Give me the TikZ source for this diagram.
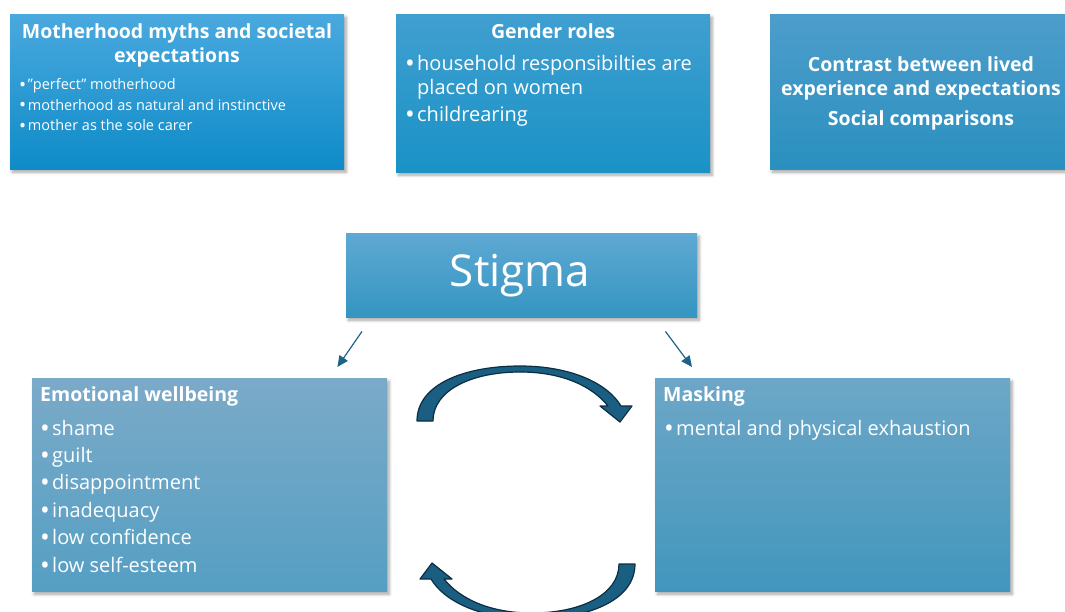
\documentclass[tikz,border=0pt]{standalone}
\usepackage{fontspec}
\setmainfont{Open Sans}
\usetikzlibrary{positioning,shadows.blur,arrows.meta,calc}

\definecolor{mythtop}{HTML}{4AA9DE}
\definecolor{mythbot}{HTML}{0E8BC8}
\definecolor{gendertop}{HTML}{409FD0}
\definecolor{genderbot}{HTML}{1A92C6}
\definecolor{contrasttop}{HTML}{4D9DCB}
\definecolor{contrastbot}{HTML}{2A90BF}
\definecolor{stigmatop}{HTML}{5EA9D3}
\definecolor{stigmabot}{HTML}{3595C1}
\definecolor{emotiontop}{HTML}{7BAAC8}
\definecolor{emotionbot}{HTML}{559FC3}
\definecolor{masktop}{HTML}{6DA7C7}
\definecolor{maskbot}{HTML}{4296BD}
\definecolor{arrowblue}{HTML}{1F6288}
\definecolor{cyclefill}{HTML}{1A5E82}
\definecolor{cycleedge}{HTML}{0C2E44}

\newcommand{\bul}{\makebox[0.6em][l]{\raisebox{-0.1em}{\scalebox{1.3}{\textbullet}}}}

\begin{document}
\begin{tikzpicture}[x=1pt,y=-1pt,
  card/.style={rectangle,inner sep=0pt,anchor=north west,
    blur shadow={shadow xshift=2pt,shadow yshift=-3pt,shadow blur radius=3pt,
      shadow blur steps=6,shadow opacity=35}},
  head/.style={text=white,font=\fontsize{19.5}{24}\selectfont\bfseries,align=center,inner sep=0pt},
  items/.style={text=white,align=left,inner sep=0pt,anchor=base west},
  stigmaarrow/.style={draw=arrowblue,line width=1.2pt,-{Triangle[length=11pt,width=10pt]}},
  cyclearrow/.style={fill=cyclefill,draw=cycleedge,line width=1.2pt,line join=round}]

\useasboundingbox (0,0) rectangle (1065,612);
\clip (0,0) rectangle (1065,612);

% top row
\node[card,minimum width=334pt,minimum height=155pt,top color=mythtop,bottom color=mythbot] (myths) at (10,14) {};
\node[card,minimum width=314pt,minimum height=158pt,top color=gendertop,bottom color=genderbot] (gender) at (396,14) {};
\node[card,minimum width=310pt,minimum height=155pt,top color=contrasttop,bottom color=contrastbot] (contrast) at (770,14) {};

\node[head] (mythshead) at (177,45) {Motherhood myths and societal\\expectations};
% base of a multi-line node sits on its last line
\node[items,font=\fontsize{14.5}{20.5}\selectfont] (mythsitems) at (19,131)
  {\bul"perfect" motherhood\\\bul motherhood as natural and instinctive\\\bul mother as the sole carer};

\node[head,anchor=base] (genderhead) at (553,39) {Gender roles};
\node[items,font=\fontsize{20}{24}\selectfont] (genderitems) at (405,122)
  {\bul household responsibilties are\\\hspace*{0.6em}placed on women\\[3pt]\bul childrearing};

\node[head] (contrasthead) at (921,78) {Contrast between lived\\experience and expectations};
\node[head,anchor=base] (socialhead) at (921,126) {Social comparisons};

% centre
\node[card,minimum width=351pt,minimum height=84pt,top color=stigmatop,bottom color=stigmabot] (stigma) at (346,233) {};
\node[text=white,anchor=base,font=\fontsize{44}{50}\selectfont,inner sep=0pt] (stigmatext) at (520,287) {Stigma};

% bottom row
\node[card,minimum width=355pt,minimum height=213pt,top color=emotiontop,bottom color=emotionbot] (emotion) at (32,378) {};
\node[card,minimum width=355pt,minimum height=213pt,top color=masktop,bottom color=maskbot] (masking) at (655,378) {};

\node[head,anchor=base west] (emotionhead) at (40,401) {Emotional wellbeing};
\node[items,font=\fontsize{20}{27.4}\selectfont] (emotionitems) at (40,572)
  {\bul shame\\\bul guilt\\\bul disappointment\\\bul inadequacy\\\bul low confidence\\\bul low self-esteem};

\node[head,anchor=base west] (maskinghead) at (663,401) {Masking};
\node[items,font=\fontsize{20}{27.4}\selectfont] (maskingitems) at (664,435)
  {\bul mental and physical exhaustion};

\draw[stigmaarrow] ($(stigma.south west)+(16,14)$) -- ($(emotion.north east)+(-50,-11)$);
\draw[stigmaarrow] ($(stigma.south east)+(-32,14)$) -- ($(masking.north west)+(37,-11)$);

% the two curved arrows between the boxes
\draw[cyclearrow] (417,421) .. controls (417,384) and (465,366) .. (520,366)
  .. controls (572,366) and (608,384) .. (621,406) -- (632,406) -- (620,422) -- (600,406) -- (608,406)
  .. controls (592,386) and (562,372) .. (520,372) .. controls (472,372) and (433,390) .. (433,421) -- cycle;
\draw[cyclearrow,rotate around={180:(526,492.5)}] (417,421) .. controls (417,384) and (465,366) .. (520,366)
  .. controls (572,366) and (608,384) .. (621,406) -- (632,406) -- (620,422) -- (600,406) -- (608,406)
  .. controls (592,386) and (562,372) .. (520,372) .. controls (472,372) and (433,390) .. (433,421) -- cycle;
\end{tikzpicture}
\end{document}
